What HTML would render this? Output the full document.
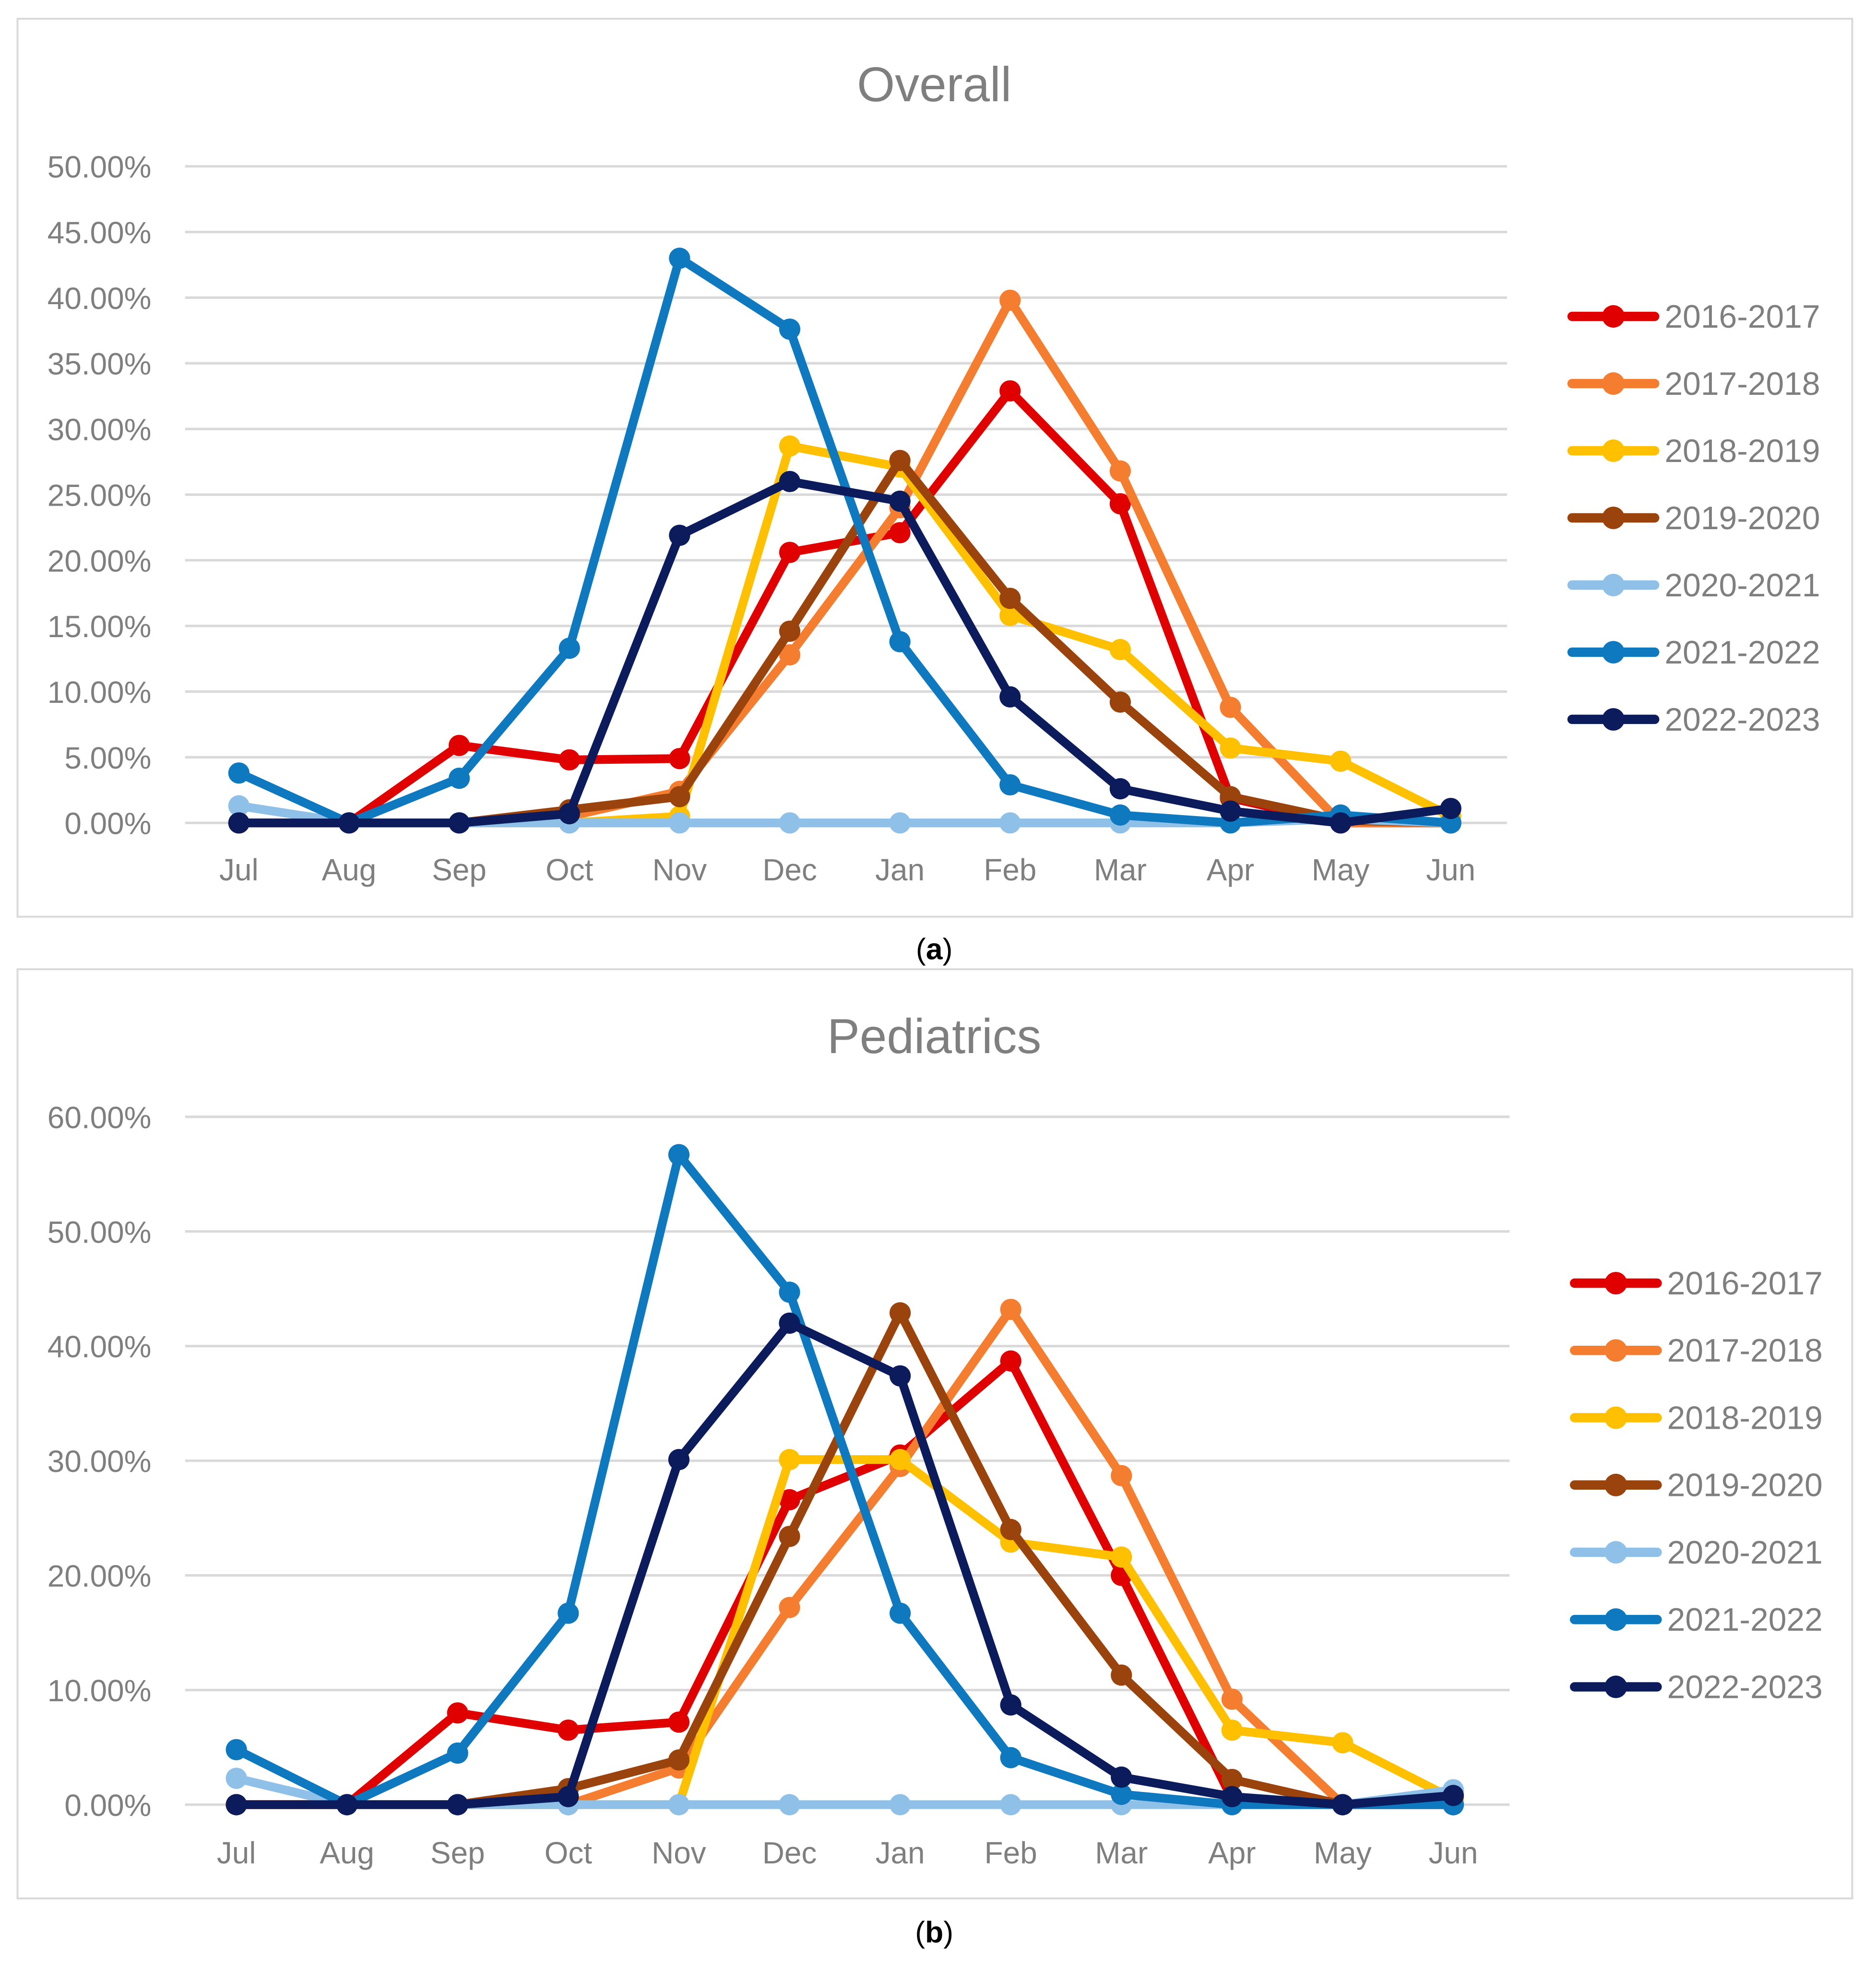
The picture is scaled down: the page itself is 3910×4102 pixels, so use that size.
<!DOCTYPE html>
<html><head><meta charset="utf-8"><style>html,body{margin:0;padding:0;background:#fff}svg{display:block}text{font-family:"Liberation Sans",sans-serif}</style></head>
<body>
<svg id="root" width="3910" height="4102" viewBox="0 0 1500 1573.6" preserveAspectRatio="none" xmlns="http://www.w3.org/2000/svg"></svg>
<script>
const months = ["Jul","Aug","Sep","Oct","Nov","Dec","Jan","Feb","Mar","Apr","May","Jun"];
const seasons = ["2016-2017","2017-2018","2018-2019","2019-2020","2020-2021","2021-2022","2022-2023"];
const colors = ["#e00000","#f47d30","#ffc000","#9a430c","#8fc0e8","#0f79bf","#0c1b5c"];
const overall2016 = [0,0,5.9,4.8,4.9,20.6,22.1,32.9,24.3,1.9,0,0];
const overall2017 = [0,0,0,0.5,2.4,12.8,24.0,39.8,26.8,8.8,0,0];
const overall2018 = [0,0,0,0,0.5,28.7,27.1,15.8,13.2,5.7,4.7,0.5];
const overall2019 = [0,0,0,1.0,2.0,14.6,27.6,17.1,9.2,2.0,0.2,0];
const overall2020 = [1.3,0,0,0,0,0,0,0,0,0,0.3,0];
const overall2021 = [3.8,0,3.4,13.3,43.0,37.6,13.8,2.9,0.6,0,0.6,0];
const overall2022 = [0,0,0,0.7,21.9,26.0,24.5,9.6,2.6,0.9,0,1.1];
const peds2016 = [0,0,8.0,6.5,7.2,26.6,30.5,38.7,20.0,0.5,0,0];
const peds2017 = [0,0,0,0,3.2,17.2,29.5,43.2,28.7,9.2,0,0];
const peds2018 = [0,0,0,0,0,30.1,30.1,22.9,21.6,6.5,5.4,0.5];
const peds2019 = [0,0,0,1.4,3.9,23.4,42.9,24.0,11.3,2.2,0,0];
const peds2020 = [2.3,0,0,0,0,0,0,0,0,0,0,1.3];
const peds2021 = [4.8,0,4.5,16.7,56.7,44.7,16.7,4.1,0.9,0,0,0];
const peds2022 = [0,0,0,0.7,30.1,42.0,37.4,8.7,2.4,0.7,0,0.8];
const overallTicks = [0,5,10,15,20,25,30,35,40,45,50];
const pedsTicks = [0,10,20,30,40,50,60];

const NS="http://www.w3.org/2000/svg";
const root=document.getElementById('root');
function mk(tag,attrs,parent,txt){const e=document.createElementNS(NS,tag);for(const k in attrs)e.setAttribute(k,attrs[k]);if(txt!==undefined)e.textContent=txt;parent.appendChild(e);return e;}

function chart(cfg){
  const g=mk('g',{},root);
  
  
  const fr=mk('rect',{x:14,y:cfg.fy0,width:1467,height:cfg.fy1-cfg.fy0,fill:'#fff',stroke:'#d9d9d9','stroke-width':1.5},g);
  
  
  const t=mk('text',{x:747,y:cfg.titleY,'text-anchor':'middle','font-size':39,fill:'#7f7f7f'},g,cfg.title);
  
  
  const maxT=cfg.ticks[cfg.ticks.length-1];
  const yS=v=>cfg.y0+(cfg.yTop-cfg.y0)*v/maxT;
  const xS=i=>cfg.x0+(cfg.x1-cfg.x0)*i/(months.length-1);
  cfg.ticks.forEach(v=>{
    const l=mk('line',{x1:148,x2:cfg.gx1,y1:yS(v),y2:yS(v),stroke:'#d9d9d9','stroke-width':2},g);
    
    
    const tl=mk('text',{x:121,y:yS(v)+9,'text-anchor':'end','font-size':24.5,fill:'#7f7f7f'},g,v.toFixed(2)+'%');
    
    
  });
  months.forEach((m,i)=>{
    const xl=mk('text',{x:xS(i),y:cfg.xLabY,'text-anchor':'middle','font-size':24.5,fill:'#7f7f7f'},g,m);
    
    
  });
  cfg.series.forEach((data,s)=>{
    const sg=mk('g',{},g);
    
    
    const pts=data.map((v,i)=>xS(i)+','+yS(v)).join(' ');
    const pl=mk('polyline',{points:pts,fill:'none',stroke:colors[s],'stroke-width':7,'stroke-linejoin':'round','stroke-linecap':'round'},sg);
    
    
    data.forEach((v,i)=>{
      const c=mk('circle',{cx:xS(i),cy:yS(v),r:8.5,fill:colors[s]},sg);
      
      
    });
    const ly=cfg.legY+s*cfg.legStep;
    const lg=mk('g',{},g);
    
    
    mk('line',{x1:cfg.legX,x2:cfg.legX+66,y1:ly,y2:ly,stroke:colors[s],'stroke-width':7.5,'stroke-linecap':'round'},lg);
    mk('circle',{cx:cfg.legX+33,cy:ly,r:9,fill:colors[s]},lg);
    mk('text',{x:cfg.legX+74,y:ly+9,'font-size':26,fill:'#7f7f7f'},lg,seasons[s]);
  });
  const cap=mk('text',{x:747,y:cfg.capY,'text-anchor':'middle','font-size':24,fill:'#000','font-family':'Liberation Serif,serif'},root);
  
  
  mk('tspan',{},cap,'(');
  mk('tspan',{'font-weight':'bold'},cap,cfg.cap);
  mk('tspan',{},cap,')');
}
chart({name:'overall-chart',title:'Overall',fy0:15,fy1:733,titleY:81,y0:658,yTop:133,ticks:overallTicks,x0:191,x1:1160,gx1:1205,xLabY:704,
  series:[overall2016,overall2017,overall2018,overall2019,overall2020,overall2021,overall2022],legX:1257,legY:253,legStep:53.7,capY:767,cap:'a'});
chart({name:'pediatrics-chart',title:'Pediatrics',fy0:775,fy1:1518,titleY:842,y0:1443,yTop:893,ticks:pedsTicks,x0:189,x1:1162,gx1:1207,xLabY:1490,
  series:[peds2016,peds2017,peds2018,peds2019,peds2020,peds2021,peds2022],legX:1259,legY:1026,legStep:53.8,capY:1553,cap:'b'});
</script>
</body></html>
